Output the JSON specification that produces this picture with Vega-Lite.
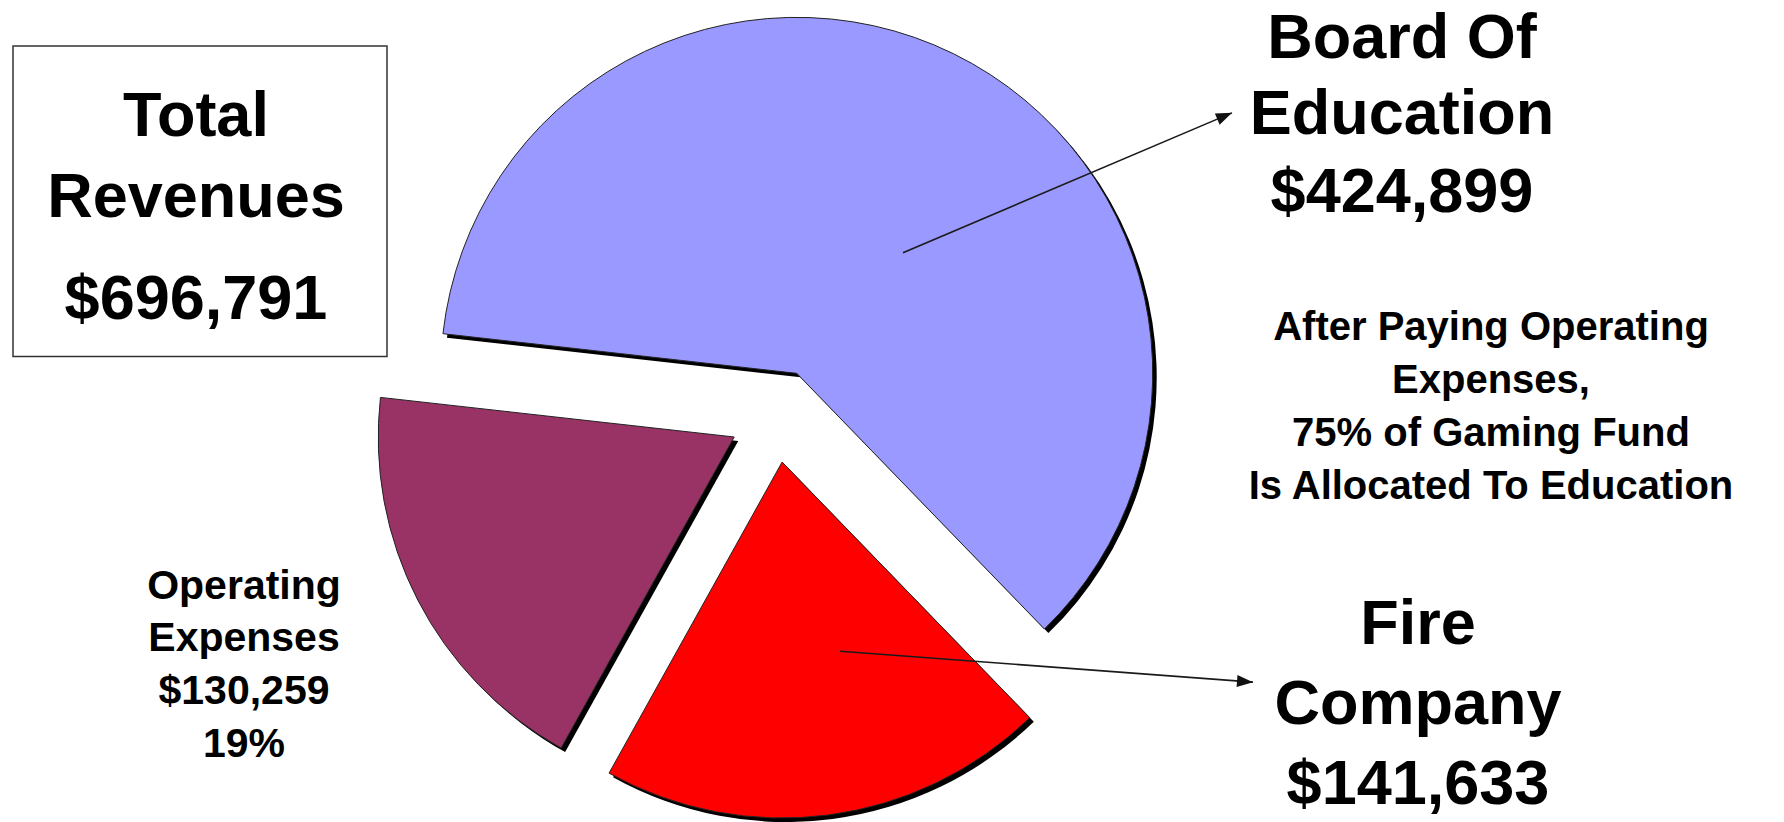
{
  "$schema": "https://vega.github.io/schema/vega-lite/v6.json",
  "width": 1784,
  "height": 822,
  "autosize": {"type": "fit", "contains": "padding"},
  "padding": 0,
  "background": "white",
  "config": {"view": {"stroke": null}},
  "datasets": {
    "slices": [
      {"category": "Board Of Education", "value": 424899},
      {"category": "Fire Company", "value": 141633},
      {"category": "Operating Expenses", "value": 130259}
    ],
    "box": [{"x": -763, "x2": -389, "y": 370, "y2": 59}],
    "arrows": [
      {"x": 127, "y": 163, "x2": 456, "y2": 303},
      {"x": 64, "y": -236, "x2": 477, "y2": -267}
    ],
    "labels": [
      {"group": "big", "text": "Total", "x": -580, "y": 280},
      {"group": "big", "text": "Revenues", "x": -580, "y": 199},
      {"group": "big", "text": "$696,791", "x": -580, "y": 97},
      {"group": "big", "text": "Board Of", "x": 626, "y": 358},
      {"group": "big", "text": "Education", "x": 626, "y": 282},
      {"group": "big", "text": "$424,899", "x": 626, "y": 204},
      {"group": "big", "text": "Fire", "x": 642, "y": -229},
      {"group": "big", "text": "Company", "x": 642, "y": -309},
      {"group": "big", "text": "$141,633", "x": 642, "y": -389},
      {"group": "note", "text": "After Paying Operating", "x": 715, "y": 76},
      {"group": "note", "text": "Expenses,", "x": 715, "y": 23},
      {"group": "note", "text": "75% of Gaming Fund", "x": 715, "y": -31},
      {"group": "note", "text": "Is Allocated To Education", "x": 715, "y": -84},
      {"group": "ops", "text": "Operating", "x": -532, "y": -184},
      {"group": "ops", "text": "Expenses", "x": -532, "y": -236},
      {"group": "ops", "text": "$130,259", "x": -532, "y": -289},
      {"group": "ops", "text": "19%", "x": -532, "y": -342}
    ]
  },
  "encoding": {
    "x": {"field": "x", "type": "quantitative", "scale": {"domain": [-776, 1008], "nice": false, "zero": false}, "axis": null},
    "y": {"field": "y", "type": "quantitative", "scale": {"domain": [-406, 416], "nice": false, "zero": false}, "axis": null}
  },
  "layer": [
    {
      "data": {"name": "slices"},
      "transform": [
        {"stack": "value", "groupby": [], "sort": [{"field": "category", "order": "ascending"}], "as": ["v0", "v1"]},
        {"joinaggregate": [{"op": "sum", "field": "value", "as": "total"}]},
        {"calculate": "4.824 + PI * (datum.v0 + datum.v1) / datum.total", "as": "mid"},
        {"calculate": "47 * sin(datum.mid)", "as": "x"},
        {"calculate": "47 * cos(datum.mid)", "as": "y"}
      ],
      "mark": {"type": "arc", "outerRadius": 356, "color": "#000000", "xOffset": 4, "yOffset": 4},
      "encoding": {
        "theta": {"field": "v0", "type": "quantitative", "stack": null, "scale": {"domain": [0, 696791], "range": [4.824, 11.107]}},
        "theta2": {"field": "v1"}
      }
    },
    {
      "data": {"name": "slices"},
      "transform": [
        {"stack": "value", "groupby": [], "sort": [{"field": "category", "order": "ascending"}], "as": ["v0", "v1"]},
        {"joinaggregate": [{"op": "sum", "field": "value", "as": "total"}]},
        {"calculate": "4.824 + PI * (datum.v0 + datum.v1) / datum.total", "as": "mid"},
        {"calculate": "47 * sin(datum.mid)", "as": "x"},
        {"calculate": "47 * cos(datum.mid)", "as": "y"}
      ],
      "mark": {"type": "arc", "outerRadius": 356, "stroke": "#222222", "strokeWidth": 1},
      "encoding": {
        "theta": {"field": "v0", "type": "quantitative", "stack": null, "scale": {"domain": [0, 696791], "range": [4.824, 11.107]}},
        "theta2": {"field": "v1"},
        "color": {
          "field": "category",
          "type": "nominal",
          "scale": {"domain": ["Board Of Education", "Fire Company", "Operating Expenses"], "range": ["#9999FF", "#FF0000", "#993366"]},
          "legend": null
        }
      }
    },
    {
      "data": {"name": "box"},
      "mark": {"type": "rect", "fill": "#FFFFFF", "stroke": "#333333", "strokeWidth": 1.5},
      "encoding": {"x2": {"field": "x2"}, "y2": {"field": "y2"}}
    },
    {
      "data": {"name": "arrows"},
      "mark": {"type": "rule", "color": "#1a1a1a", "strokeWidth": 1.6},
      "encoding": {"x2": {"field": "x2"}, "y2": {"field": "y2"}}
    },
    {
      "data": {"name": "arrows"},
      "transform": [
        {"calculate": "atan2(-(datum.y2 - datum.y), datum.x2 - datum.x) * 180 / PI", "as": "ang"}
      ],
      "mark": {"type": "point", "shape": "M0,0L-1,-0.38L-1,0.38Z", "size": 1024, "filled": true, "color": "#111111", "opacity": 1},
      "encoding": {
        "x": {"field": "x2", "type": "quantitative", "scale": {"domain": [-776, 1008], "nice": false, "zero": false}, "axis": null},
        "y": {"field": "y2", "type": "quantitative", "scale": {"domain": [-406, 416], "nice": false, "zero": false}, "axis": null},
        "angle": {"field": "ang", "type": "quantitative", "scale": null}
      }
    },
    {
      "data": {"name": "labels"},
      "transform": [{"filter": "datum.group === 'big'"}],
      "mark": {"type": "text", "font": "Liberation Sans", "fontWeight": "bold", "fontSize": 63, "align": "center", "baseline": "alphabetic", "color": "#000000"},
      "encoding": {"text": {"field": "text"}}
    },
    {
      "data": {"name": "labels"},
      "transform": [{"filter": "datum.group === 'note'"}],
      "mark": {"type": "text", "font": "Liberation Sans", "fontWeight": "bold", "fontSize": 40, "align": "center", "baseline": "alphabetic", "color": "#000000"},
      "encoding": {"text": {"field": "text"}}
    },
    {
      "data": {"name": "labels"},
      "transform": [{"filter": "datum.group === 'ops'"}],
      "mark": {"type": "text", "font": "Liberation Sans", "fontWeight": "bold", "fontSize": 41, "align": "center", "baseline": "alphabetic", "color": "#000000"},
      "encoding": {"text": {"field": "text"}}
    }
  ]
}
